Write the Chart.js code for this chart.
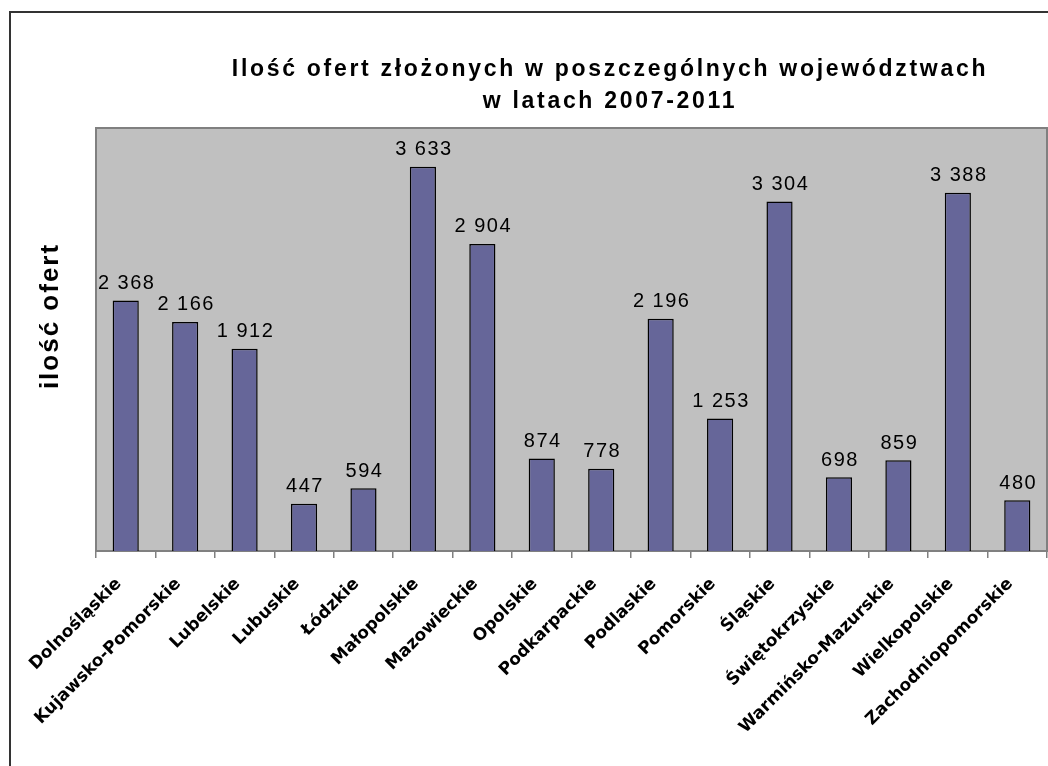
<!DOCTYPE html>
<html lang="pl">
<head>
<meta charset="utf-8">
<title>Ilość ofert złożonych w poszczególnych województwach</title>
<script src="https://cdn.jsdelivr.net/npm/chart.js@4/dist/chart.umd.min.js"></script>
<style>
    html, body { margin: 0; padding: 0; background: #ffffff; overflow: hidden; }
    #wrap { position: relative; width: 1048px; height: 766px; }
    #ramka {
        position: absolute; left: 9px; top: 11px;
        width: 1100px; height: 800px;
        border: 2px solid #333333;
    }
    canvas { position: absolute; left: 0; top: 0; }
</style>
</head>
<body>
<div id="wrap">
    <div id="ramka"></div>
    <canvas id="ofertyChart" width="1048" height="766"></canvas>
</div>
<script>
// ===== Dane =====
const wojewodztwa = [
    'Dolnośląskie', 'Kujawsko-Pomorskie', 'Lubelskie', 'Lubuskie', 'Łódzkie',
    'Małopolskie', 'Mazowieckie', 'Opolskie', 'Podkarpackie', 'Podlaskie',
    'Pomorskie', 'Śląskie', 'Świętokrzyskie', 'Warmińsko-Mazurskie',
    'Wielkopolskie', 'Zachodniopomorskie'
];
const iloscOfert = [2368, 2166, 1912, 447, 594, 3633, 2904, 874, 778, 2196, 1253, 3304, 698, 859, 3388, 480];

const tytul = ['Ilość ofert złożonych w poszczególnych województwach', 'w latach 2007-2011'];
const tytulOsiY = 'ilość ofert';

// separator tysięcy jako spacja
const formatLiczby = v => String(v).replace(/\B(?=(\d{3})+(?!\d))/g, ' ');

// tło obszaru wykresu + ramka
const tloObszaru = {
    id: 'tloObszaru',
    beforeDraw(chart) {
        const { ctx, chartArea: a } = chart;
        ctx.save();
        ctx.fillStyle = '#c0c0c0';
        ctx.fillRect(a.left, a.top, a.right - a.left, a.bottom - a.top);
        ctx.strokeStyle = '#808080';
        ctx.lineWidth = 2;
        ctx.strokeRect(a.left, a.top, a.right - a.left, a.bottom - a.top);
        ctx.restore();
    }
};

// etykiety wartości nad słupkami
const etykietyWartosci = {
    id: 'etykietyWartosci',
    afterDatasetsDraw(chart) {
        const { ctx } = chart;
        const meta = chart.getDatasetMeta(0);
        ctx.save();
        ctx.fillStyle = '#000000';
        ctx.font = '20px "Liberation Sans", Arial, sans-serif';
        ctx.letterSpacing = '1.5px';
        ctx.textAlign = 'center';
        ctx.textBaseline = 'bottom';
        meta.data.forEach((bar, i) => {
            ctx.fillText(formatLiczby(iloscOfert[i]), bar.x + 1, bar.y - 7);
        });
        ctx.restore();
    }
};

// tytuł i opis osi
const teksty = {
    id: 'teksty',
    afterDraw(chart) {
        const { ctx } = chart;
        ctx.save();
        ctx.fillStyle = '#000000';
        ctx.textAlign = 'center';
        ctx.textBaseline = 'middle';
        ctx.font = 'bold 23px "Liberation Sans", Arial, sans-serif';
        ctx.letterSpacing = '2.7px';
        ctx.fillText(tytul[0], 610, 70);
        ctx.fillText(tytul[1], 610, 102);

        ctx.font = 'bold 26px "Liberation Sans", Arial, sans-serif';
        ctx.letterSpacing = '2px';
        ctx.translate(51, 316);
        ctx.rotate(-Math.PI / 2);
        ctx.fillText(tytulOsiY, 0, 0);
        ctx.restore();
    }
};

const ctxOferty = document.getElementById('ofertyChart').getContext('2d');

new Chart(ctxOferty, {
    type: 'bar',
    data: {
        labels: wojewodztwa,
        datasets: [{
            label: 'ilość ofert',
            data: iloscOfert,
            backgroundColor: '#666699',
            borderColor: '#000000',
            borderWidth: 1.5,
            barPercentage: 0.44,
            categoryPercentage: 1
        }]
    },
    options: {
        responsive: false,
        animation: false,
        layout: {
            padding: { left: 96, top: 128, right: 1, bottom: 0 }
        },
        plugins: {
            legend: { display: false },
            tooltip: { enabled: false }
        },
        scales: {
            x: {
                offset: true,
                grid: {
                    offset: true,
                    drawOnChartArea: false,
                    color: '#808080',
                    tickLength: 7,
                    lineWidth: 1.5
                },
                border: { color: '#808080', width: 2 },
                ticks: {
                    autoSkip: false,
                    minRotation: 45,
                    maxRotation: 45,
                    color: '#000000',
                    padding: 16,
                    labelOffset: -7,
                    font: { family: '"DejaVu Sans", sans-serif', weight: 'bold', size: 17 }
                },
                afterFit(scale) {
                    scale.height = 215;
                    scale.paddingLeft = 0;
                    scale.paddingRight = 0;
                }
            },
            y: {
                min: 0,
                max: 4000,
                ticks: { display: false },
                grid: { display: false },
                border: { display: false },
                afterFit(scale) {
                    scale.width = 0;
                }
            }
        }
    },
    plugins: [tloObszaru, etykietyWartosci, teksty]
});
</script>
</body>
</html>
